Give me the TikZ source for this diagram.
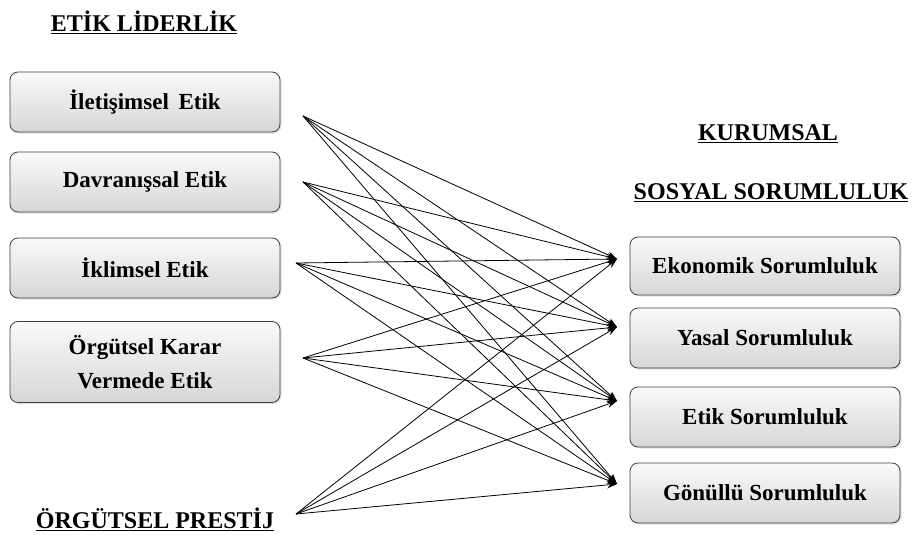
\documentclass[tikz,border=0pt]{standalone}
\usepackage{fontspec}
\setmainfont{LiberationSerif-Regular.ttf}[BoldFont=LiberationSerif-Bold.ttf]
\usepackage{tikz}
\usetikzlibrary{arrows.meta,positioning,calc,shadows}

\begin{document}
\begin{tikzpicture}[
    x=1pt, y=-1pt,
    box/.style={rectangle, draw=black!75, thick, top color=gray!4, bottom color=gray!32, rounded corners=8pt, minimum width=270pt, text centered, align=center, font=\fontsize{23}{34}\selectfont\bfseries, drop shadow={opacity=0.25, shadow xshift=1.5pt, shadow yshift=-1.5pt}},
    heading/.style={font=\fontsize{24}{28}\selectfont\bfseries},
    arrow/.style={-{Stealth[length=10pt, width=7pt]}, line width=0.8pt}
]
    \useasboundingbox (0,0) rectangle (914,535);

    % Headings
    \node[heading] (etik) at (144,22) {\underline{ETİK LİDERLİK}};
    \node[heading] (kurumsal) at (768,134) {\underline{KURUMSAL}};
    \node[heading] (sosyal) at (771,193) {\underline{SOSYAL SORUMLULUK}};
    \node[heading] (prestij) at (155,519) {\underline{ÖRGÜTSEL PRESTİJ}};

    % Left boxes
    \node[box, minimum height=60pt] (iletisim) at (145,102) {İletişimsel \,Etik};
    \node[box, minimum height=60pt] (davranis) at (145,182) {Davranışsal Etik};
    \node[box, minimum height=60pt] (iklim) at (145,268) {İklimsel Etik};
    \node[box, minimum height=81pt] (karar) at (145,362) {Örgütsel Karar\\Vermede Etik};

    % Right boxes
    \node[box, minimum height=58pt] (ekonomik) at (765,266) {Ekonomik Sorumluluk};
    \node[box, minimum height=60pt] (yasal) at (765,338) {Yasal Sorumluluk};
    \node[box, minimum height=60pt] (etiksor) at (765,417) {Etik Sorumluluk};
    \node[box, minimum height=60pt] (gonullu) at (765,493) {Gönüllü Sorumluluk};

    % Arrow ends
    \coordinate (s1) at (303,116);
    \coordinate (s2) at (303,182);
    \coordinate (s3) at (296,263);
    \coordinate (s4) at (303,358);
    \coordinate (s5) at (296,514);
    \coordinate (t1) at (617,259);
    \coordinate (t2) at (617,327);
    \coordinate (t3) at (617,401);
    \coordinate (t4) at (617,484);

    % Arrows
    \foreach \s in {s1,s2,s3,s4,s5}
        \foreach \t in {t1,t2,t3,t4}
            \draw[arrow] (\s) -- (\t);
\end{tikzpicture}
\end{document}
